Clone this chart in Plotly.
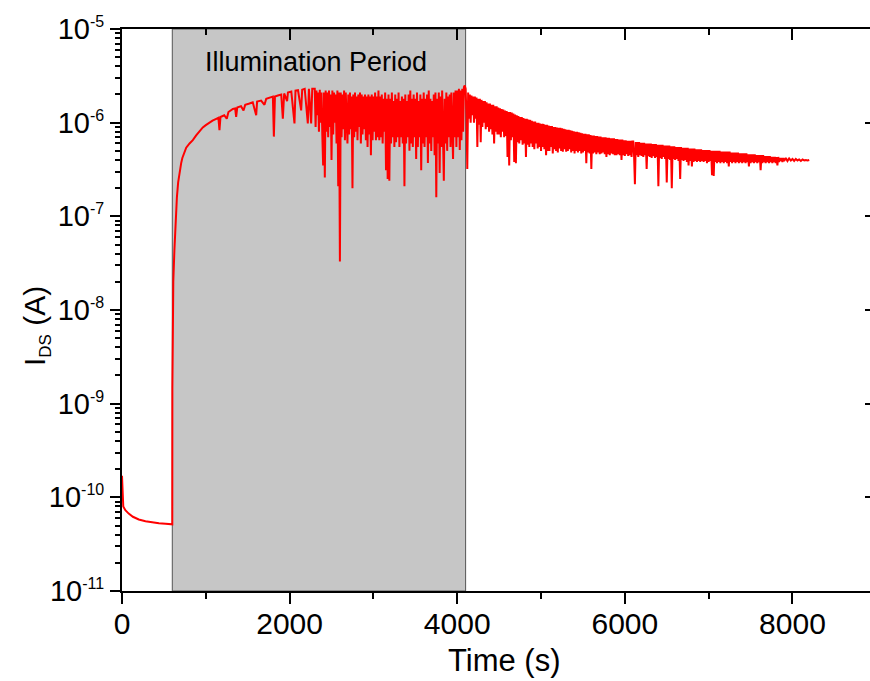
"""I_DS vs time under illumination (log scale)."""
import plotly.graph_objects as go

# dark current before the light is switched on (A)
t_dark = [0, 5, 15, 40, 80, 130, 200, 280, 360, 440, 520, 600]
i_dark = [1.7e-10, 9.5e-11, 8.0e-11, 7.3e-11, 6.7e-11, 6.2e-11, 5.8e-11,
          5.55e-11, 5.4e-11, 5.3e-11, 5.22e-11, 5.15e-11]

# fast rise right after the light is switched on (A)
t_rise = [601, 605, 612, 625, 640, 655, 670, 690, 706, 720, 745, 766, 806,
          845, 885, 925, 964]
i_rise = [1.5e-9, 8e-9, 2e-8, 4.3e-8, 9e-8, 1.6e-7, 2.3e-7, 3.2e-7, 3.7e-7,
          4.2e-7, 4.9e-7, 5.4e-7, 6.0e-7, 6.5e-7, 7.3e-7, 8.2e-7, 8.9e-7]

# slow build-up, values in uA
t_early = [1000, 1040, 1080, 1124, 1150, 1163, 1175, 1220, 1250, 1270, 1323,
           1350, 1362, 1375, 1420, 1450, 1470, 1521, 1560, 1601, 1612, 1660,
           1700, 1721, 1760, 1800, 1812, 1825, 1860, 1900, 1919, 1935, 1970,
           1980, 2020, 2058, 2070, 2100, 2138, 2150, 2180, 2217, 2230, 2257,
           2270, 2290]
i_early = [0.94, 1.0, 1.05, 1.1, 1.13, 0.83, 1.15, 1.2, 1.1, 1.3, 1.4,
           1.42, 1.15, 1.45, 1.5, 1.35, 1.55, 1.6, 1.65, 1.2, 1.68, 1.72,
           1.55, 1.8, 1.85, 1.9, 0.71, 1.9, 1.95, 2.0, 1.1, 2.05, 1.7,
           2.1, 2.15, 0.98, 2.2, 2.22, 1.35, 2.25, 2.3, 0.98, 2.3, 0.98,
           2.3, 2.28]

# noisy part of the illumination period, sampled every 10 s (uA)
t_mid = list(range(2300, 4100, 10))
i_mid = [2.3, 0.9, 2.2, 1.2, 2.1, 0.8, 2.25, 1.0, 2.1, 0.75,       # 2300
         0.35, 2.1, 0.26, 2.2, 0.8, 2.1, 0.7, 2.2, 0.9, 2.0,       # 2400
         0.40, 2.2, 0.75, 2.1, 1.0, 2.0, 0.6, 2.2, 0.21, 2.1,      # 2500
         0.033, 2.1, 0.7, 2.0, 0.85, 2.2, 0.65, 2.1, 0.8, 0.60,    # 2600
         2.0, 0.75, 2.1, 0.85, 1.9, 0.20, 2.0, 0.7, 2.1, 0.8,      # 2700
         1.9, 0.65, 2.0, 0.9, 2.1, 0.6, 2.0, 0.75, 1.9, 0.85,      # 2800
         2.0, 0.65, 1.9, 0.55, 2.0, 0.75, 1.9, 0.45, 2.0, 0.65,    # 2900
         1.9, 0.8, 2.1, 0.65, 1.9, 0.7, 2.2, 0.65, 1.9, 0.7,       # 3000
         2.0, 0.6, 1.8, 0.8, 2.1, 0.31, 1.8, 0.25, 2.0, 0.24,      # 3100
         1.8, 0.6, 2.1, 0.7, 1.7, 0.55, 2.0, 0.62, 1.8, 0.7,       # 3200
         2.1, 0.55, 1.7, 0.7, 1.9, 0.6, 1.8, 0.21, 2.0, 0.6,       # 3300
         1.7, 0.7, 2.0, 0.5, 2.2, 0.6, 1.8, 0.55, 2.0, 0.7,        # 3400
         1.8, 0.41, 2.1, 0.55, 1.7, 0.7, 2.0, 0.31, 1.8, 0.6,      # 3500
         2.1, 0.55, 1.8, 0.7, 2.0, 0.37, 2.2, 0.6, 1.8, 0.5,       # 3600
         1.7, 0.7, 2.0, 0.45, 2.1, 0.16, 1.8, 0.6, 2.1, 0.29,      # 3700
         1.9, 0.55, 2.2, 0.7, 0.24, 1.8, 0.6, 2.1, 0.5, 1.9,       # 3800
         0.7, 2.0, 0.55, 2.1, 0.65, 0.41, 2.1, 0.7, 2.2, 0.55,     # 3900
         2.2, 0.7, 2.3, 0.51, 2.2, 0.65, 2.3, 0.8, 2.4, 2.5]       # 4000

# early decay after the light is switched off, sampled every 10 s (uA)
t_decay1 = list(range(4100, 6100, 10))
i_decay1 = [2.3, 1.2, 0.32, 2.1, 1.1, 2.0, 1.0, 1.95, 1.2, 1.9,        # 4100
            1.0, 1.9, 1.1, 1.85, 0.55, 1.8, 0.95, 1.8, 0.62, 1.75,     # 4200
            0.9, 1.7, 1.0, 1.7, 0.85, 1.65, 0.9, 1.6, 0.8, 1.6,        # 4300
            0.85, 1.55, 0.75, 1.55, 0.6, 1.5, 0.8, 1.5, 0.75, 1.45,    # 4400
            0.75, 1.42, 0.7, 1.4, 0.8, 1.38, 0.7, 1.35, 0.72, 1.33,    # 4500
            0.43, 1.3, 0.35, 1.3, 0.65, 1.28, 0.7, 1.25, 0.38, 1.22,   # 4600
            0.37, 1.2, 0.62, 1.18, 0.6, 1.15, 0.65, 1.15, 0.58, 1.12,  # 4700
            0.6, 1.1, 0.43, 1.1, 0.58, 1.08, 0.55, 1.07, 0.6, 1.05,    # 4800
            0.55, 1.03, 0.52, 1.03, 0.6, 1.0, 0.53, 1.0, 0.55, 0.98,   # 4900
            0.5, 0.97, 0.55, 0.97, 0.52, 0.95, 0.45, 0.95, 0.5, 0.93,  # 5000
            0.5, 0.92, 0.55, 0.92, 0.47, 0.9, 0.52, 0.9, 0.5, 0.89,    # 5100
            0.48, 0.88, 0.53, 0.88, 0.5, 0.87, 0.49, 0.86, 0.52, 0.85, # 5200
            0.49, 0.84, 0.5, 0.84, 0.52, 0.83, 0.48, 0.82, 0.5, 0.81,  # 5300
            0.47, 0.8, 0.5, 0.8, 0.48, 0.79, 0.5, 0.78, 0.47, 0.77,    # 5400
            0.48, 0.76, 0.5, 0.76, 0.37, 0.75, 0.48, 0.75, 0.47, 0.74, # 5500
            0.32, 0.73, 0.47, 0.73, 0.48, 0.72, 0.46, 0.72, 0.48, 0.71,  # 5600
            0.46, 0.71, 0.47, 0.7, 0.48, 0.7, 0.46, 0.7, 0.43, 0.69,   # 5700
            0.46, 0.69, 0.45, 0.68, 0.47, 0.68, 0.46, 0.68, 0.45, 0.67,  # 5800
            0.45, 0.67, 0.46, 0.66, 0.45, 0.66, 0.40, 0.66, 0.45, 0.65,  # 5900
            0.44, 0.65, 0.46, 0.64, 0.44, 0.64, 0.45, 0.64, 0.43, 0.63]  # 6000

# late decay, sampled every 10 s (uA)
t_decay2 = list(range(6100, 7900, 10))
i_decay2 = [0.63, 0.44, 0.22, 0.62, 0.45, 0.62, 0.43, 0.62, 0.45, 0.61,  # 6100
            0.44, 0.61, 0.43, 0.61, 0.45, 0.6, 0.32, 0.6, 0.44, 0.6,     # 6200
            0.43, 0.6, 0.42, 0.59, 0.44, 0.59, 0.42, 0.59, 0.43, 0.58,   # 6300
            0.21, 0.58, 0.42, 0.58, 0.41, 0.58, 0.43, 0.57, 0.41, 0.57,  # 6400
            0.23, 0.57, 0.41, 0.57, 0.4, 0.56, 0.20, 0.56, 0.41, 0.56,   # 6500
            0.4, 0.55, 0.41, 0.55, 0.39, 0.55, 0.25, 0.55, 0.4, 0.54,    # 6600
            0.39, 0.54, 0.4, 0.54, 0.38, 0.54, 0.35, 0.53, 0.39, 0.53,   # 6700
            0.34, 0.53, 0.38, 0.53, 0.39, 0.52, 0.38, 0.52, 0.39, 0.52,  # 6800
            0.38, 0.52, 0.39, 0.51, 0.38, 0.51, 0.39, 0.51, 0.37, 0.51,  # 6900
            0.38, 0.51, 0.39, 0.5, 0.275, 0.5, 0.27, 0.5, 0.38, 0.5,     # 7000
            0.37, 0.5, 0.38, 0.5, 0.37, 0.49, 0.38, 0.49, 0.37, 0.49,    # 7100
            0.38, 0.49, 0.37, 0.49, 0.34, 0.49, 0.38, 0.48, 0.37, 0.48,  # 7200
            0.38, 0.48, 0.37, 0.48, 0.38, 0.48, 0.37, 0.47, 0.38, 0.47,  # 7300
            0.37, 0.47, 0.38, 0.47, 0.37, 0.47, 0.38, 0.46, 0.34, 0.46,  # 7400
            0.37, 0.46, 0.38, 0.46, 0.37, 0.46, 0.38, 0.45, 0.37, 0.45,  # 7500
            0.38, 0.45, 0.31, 0.45, 0.37, 0.45, 0.38, 0.44, 0.37, 0.44,  # 7600
            0.38, 0.44, 0.37, 0.44, 0.38, 0.43, 0.37, 0.43, 0.38, 0.43,  # 7700
            0.37, 0.43, 0.35, 0.43, 0.38, 0.42, 0.39, 0.42, 0.38, 0.42]  # 7800

# tail, sampled every 20 s (uA)
t_tail = list(range(7900, 8220, 20))
i_tail = [0.39, 0.42, 0.39, 0.415, 0.395, 0.41, 0.39, 0.41,
          0.395, 0.405, 0.39, 0.405, 0.395, 0.4, 0.395, 0.4]

light_on, light_off = 600, 4100
y_ticks = [1e-11, 1e-10, 1e-9, 1e-8, 1e-7, 1e-6, 1e-5]
y_ticktext = ["10<sup><span style='font-size:16px'>-%d</span></sup>" % e
              for e in [11, 10, 9, 8, 7, 6, 5]]

UA = 1e-6
t_all = t_dark + t_rise + t_early + t_mid + t_decay1 + t_decay2 + t_tail
i_all = (i_dark + i_rise
         + [v * UA for v in i_early + i_mid + i_decay1 + i_decay2 + i_tail])

FONT = "Arial, Liberation Sans, sans-serif"
x_max = 8925
minor_y = [m * d for d in y_ticks[:-1] for m in range(2, 10)]

fig = go.Figure()
fig.add_trace(go.Scatter(x=t_all, y=i_all, mode="lines",
                         line=dict(color="#ff0000", width=2),
                         showlegend=False, hoverinfo="skip"))
fig.add_trace(go.Scatter(x=[None], y=[None], xaxis="x2", yaxis="y2",
                         showlegend=False, hoverinfo="skip"))

fig.add_shape(type="rect", xref="x", yref="paper", x0=light_on, x1=light_off,
              y0=0, y1=1, fillcolor="#c6c6c6", layer="below",
              line=dict(color="#555555", width=1))

fig.add_annotation(text="Illumination Period", xref="x", yref="y",
                   x=2315, y=-5.355, showarrow=False,
                   font=dict(family=FONT, size=27, color="black"))
fig.add_annotation(text="I<sub><span style='font-size:17px'>DS</span></sub> (A)",
                   xref="paper", yref="paper", x=-0.115, y=0.4715,
                   xanchor="center", yanchor="middle",
                   textangle=-90, showarrow=False,
                   font=dict(family=FONT, size=30, color="black"))
fig.add_annotation(text="Time (s)", xref="paper", yref="paper",
                   x=0.512, y=-0.1228, showarrow=False,
                   xanchor="center", yanchor="middle",
                   font=dict(family=FONT, size=31, color="black"))

axis_common = dict(showgrid=False, zeroline=False, linecolor="black",
                   tickcolor="black", tickwidth=2)

fig.update_layout(
    width=870, height=681,
    margin=dict(l=122, r=0, t=29, b=90),
    paper_bgcolor="white", plot_bgcolor="white",
    font=dict(family=FONT, size=30, color="black"),
    xaxis=dict(range=[0, x_max], tick0=0, dtick=2000, ticks="outside",
               ticklen=11, showline=True, linewidth=2,
               ticklabelstandoff=-6,
               minor=dict(dtick=1000, ticks="outside", ticklen=6,
                          tickwidth=2, tickcolor="black"),
               tickfont=dict(size=30), **axis_common),
    xaxis2=dict(range=[0, x_max], overlaying="x", side="top", anchor="y",
                tick0=0, dtick=2000, ticks="inside", ticklen=11,
                showline=True, linewidth=2, showticklabels=False,
                minor=dict(dtick=1000, ticks="inside", ticklen=6,
                           tickwidth=2, tickcolor="black"),
                **axis_common),
    yaxis=dict(type="log", range=[-11, -5], tickmode="array",
               tickvals=y_ticks, ticktext=y_ticktext, ticks="outside",
               ticklen=10, showline=True, linewidth=2,
               minor=dict(tickmode="array", tickvals=minor_y,
                          ticks="outside", ticklen=5, tickwidth=2,
                          tickcolor="black"),
               tickfont=dict(size=29), **axis_common),
    yaxis2=dict(type="log", range=[-11, -5], overlaying="y", side="right",
                anchor="x", tickmode="array", tickvals=y_ticks,
                ticks="inside", ticklen=5, showline=False,
                showticklabels=False, **axis_common),
)

# drop the default page margin so the figure fills the window exactly
fig.write_html(
    "out.html",
    config={"displayModeBar": False},
    post_script="document.body.style.margin='0';"
                "document.body.style.overflow='hidden';",
)
